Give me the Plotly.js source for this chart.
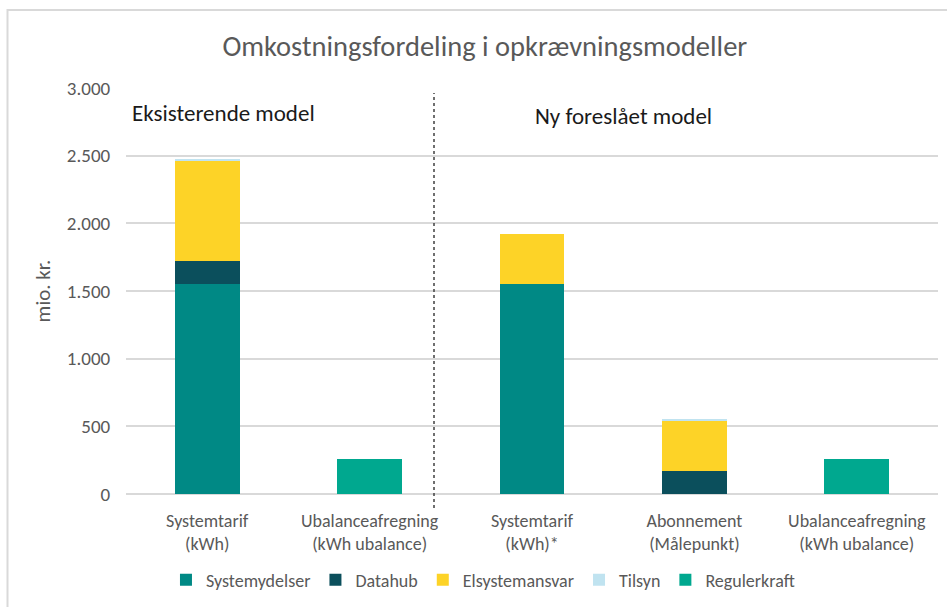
<!DOCTYPE html>
<html>
<head>
<meta charset="utf-8">
<script src="https://cdn.plot.ly/plotly-3.0.1.min.js"></script>
<style>html,body{margin:0;padding:0;background:#fff;}#chart{width:947px;height:607px;}</style>
</head>
<body>
<div id="chart"></div>
<script>
// Data
const categoryLabels = ["Systemtarif<br>(kWh)", "Ubalanceafregning<br>(kWh ubalance)", "Systemtarif<br>(kWh)*", "Abonnement<br>(Målepunkt)", "Ubalanceafregning<br>(kWh ubalance)"];
const categoryIndex = [0, 1, 2, 3, 4];
const systemydelser = [1550, null, 1550, null, null];
const datahub = [175, null, null, 170, null];
const elsystemansvar = [735, null, 370, 370, null];
const tilsyn = [15, null, null, 14, null];
const regulerkraft = [null, 260, null, null, 260];
const yTicks = [0, 500, 1000, 1500, 2000, 2500, 3000];

const FONT = "Carlito, Lato, 'Open Sans', sans-serif";
const GREY = "#595959";

function bar(name, y, color) {
  return {type: "bar", name: name, x: categoryIndex, y: y, width: 0.4,
          marker: {color: color, line: {width: 0}}, hoverinfo: "y+name"};
}
const traces = [
  bar("Systemydelser", systemydelser, "#008985"),
  bar("Datahub", datahub, "#0b4f5c"),
  bar("Elsystemansvar", elsystemansvar, "#fdd327"),
  bar("Tilsyn", tilsyn, "#c0e3f0"),
  bar("Regulerkraft", regulerkraft, "#00a88f")
];

const layout = {
  width: 947, height: 607,
  paper_bgcolor: "#fff", plot_bgcolor: "#fff",
  margin: {l: 126, r: 9, t: 88, b: 113},
  barmode: "stack",
  separators: ",.",
  font: {family: FONT, color: GREY, size: 18},
  title: {text: "Omkostningsfordeling i opkrævningsmodeller", font: {family: FONT, size: 28.5, color: GREY},
          x: 0.512, xanchor: "center", xref: "container", y: 0.924, yref: "container", yanchor: "middle"},
  xaxis: {range: [-0.5, 4.5], tickvals: categoryIndex, ticktext: categoryLabels, showgrid: false,
          zeroline: false, showline: false, ticks: "outside", ticklen: 10, tickcolor: "rgba(0,0,0,0)",
          tickfont: {family: FONT, size: 18, color: GREY}, fixedrange: true},
  yaxis: {range: [0, 3000], tickvals: yTicks, tickformat: ",d", showgrid: true, gridcolor: "#d9d9d9", gridwidth: 2,
          zeroline: true, zerolinecolor: "#d9d9d9", zerolinewidth: 2, showline: false,
          ticks: "outside", ticklen: 11, tickcolor: "rgba(0,0,0,0)",
          tickfont: {family: FONT, size: 19, color: GREY},
          title: {text: "mio. kr.", font: {family: FONT, size: 21, color: GREY}, standoff: 10}, fixedrange: true},
  showlegend: true,
  legend: {orientation: "h", xref: "container", yref: "container", x: 0.51, xanchor: "center", y: 1 - 580/607, yanchor: "middle",
           traceorder: "normal", font: {family: FONT, size: 18, color: GREY}, itemwidth: 30, itemclick: false, itemdoubleclick: false},
  shapes: [
    {type: "rect", xref: "paper", yref: "paper", x0: (7.5-126)/812, x1: 1.2, y0: -0.6, y1: (494-10)/406,
     line: {color: "#d9d9d9", width: 2}, fillcolor: "rgba(0,0,0,0)", layer: "below"},
    {type: "line", xref: "paper", yref: "paper", x0: (434-126)/812, x1: (434-126)/812, y0: (494-508)/406, y1: (494-93)/406,
     line: {color: "#404040", width: 1.5, dash: "dot"}}
  ],
  annotations: [
    {text: "Eksisterende model", xref: "paper", yref: "paper", x: (130-126)/812, y: (494-113)/406, xanchor: "left", yanchor: "middle",
     showarrow: false, font: {family: FONT, size: 23, color: "#1a1a1a"}},
    {text: "Ny foreslået model", xref: "paper", yref: "paper", x: (533-126)/812, y: (494-116)/406, xanchor: "left", yanchor: "middle",
     showarrow: false, font: {family: FONT, size: 23, color: "#1a1a1a"}}
  ]
};

Plotly.newPlot("chart", traces, layout, {displayModeBar: false, staticPlot: true});
</script>
</body>
</html>
